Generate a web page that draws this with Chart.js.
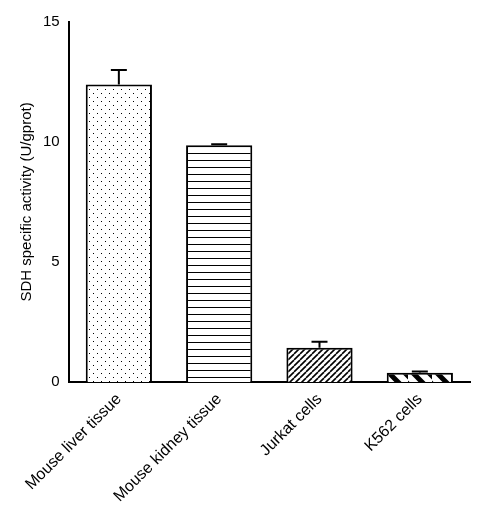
<!DOCTYPE html><html><head><meta charset="utf-8">
<script src="https://cdn.jsdelivr.net/npm/chart.js@4"></script>
<style>body{margin:0;background:#fff}#w{width:480px;height:512px}</style></head><body>
<div id="w"><canvas id="c"></canvas></div>
<script>
const categories=["Mouse liver tissue","Mouse kidney tissue","Jurkat cells","K562 cells"];
const values=[12.4,9.86,1.42,0.38];
const errors=[0.6,0.05,0.25,0.05];
const yTicks=[0,5,10,15];
function pat(kind){const p=document.createElement('canvas');let s=kind==='stripe'?24:8;p.width=s;p.height=s;const g=p.getContext('2d');g.fillStyle='#fff';g.fillRect(0,0,s,s);g.fillStyle='#000';g.strokeStyle='#000';
if(kind==='dots'){g.fillRect(1,1,1,1);g.fillRect(5,5,1,1);}
else if(kind==='h'){p.height=7;g.fillStyle='#fff';g.fillRect(0,0,8,7);g.fillStyle='#000';g.fillRect(0,6,8,1);}
else if(kind==='diag'){p.width=6;p.height=6;g.fillStyle='#fff';g.fillRect(0,0,6,6);g.lineWidth=1.6;for(let o=-6;o<=12;o+=6){g.beginPath();g.moveTo(o,6);g.lineTo(o+6,0);g.stroke();}}
else{g.lineWidth=5;for(let o=-24;o<=48;o+=16){g.beginPath();g.moveTo(o,0);g.lineTo(o+24,24);g.stroke();}}
return g.createPattern(p,'repeat');}
const fills=[pat('dots'),pat('h'),pat('diag'),pat('stripe')];
const errPlugin={id:'err',afterDatasetsDraw(ch){const {ctx,scales:{x,y}}=ch;ctx.save();ctx.strokeStyle='#000';ctx.lineWidth=2;
values.forEach((v,i)=>{const px=x.getPixelForValue(i),t=y.getPixelForValue(v+errors[i]),b=y.getPixelForValue(v);ctx.beginPath();ctx.moveTo(px,b);ctx.lineTo(px,t);ctx.moveTo(px-8,t);ctx.lineTo(px+8,t);ctx.stroke();});ctx.restore();}};
new Chart(document.getElementById('c'),{type:'bar',data:{labels:categories,datasets:[{data:values,backgroundColor:fills,borderColor:'#000',borderWidth:2,categoryPercentage:0.66,barPercentage:1}]},
options:{animation:false,responsive:true,maintainAspectRatio:false,layout:{padding:{top:22,right:10,left:14,bottom:4}},plugins:{legend:{display:false},tooltip:{enabled:false}},
scales:{x:{grid:{display:false,drawTicks:true,tickLength:6,tickColor:'#000'},border:{color:'#000',width:2},ticks:{color:'#000',maxRotation:45,minRotation:45,padding:2,font:{family:'Liberation Sans',size:16}}},
y:{min:0,max:15,afterBuildTicks(a){a.ticks=yTicks.map(v=>({value:v}));},grid:{display:false,drawTicks:true,tickLength:6,tickColor:'#000'},border:{color:'#000',width:2},ticks:{color:'#000',font:{family:'Liberation Sans',size:15}},
title:{display:true,text:'SDH specific activity (U/gprot)',color:'#000',font:{family:'Liberation Sans',size:15}}}}},plugins:[errPlugin]});
</script></body></html>
